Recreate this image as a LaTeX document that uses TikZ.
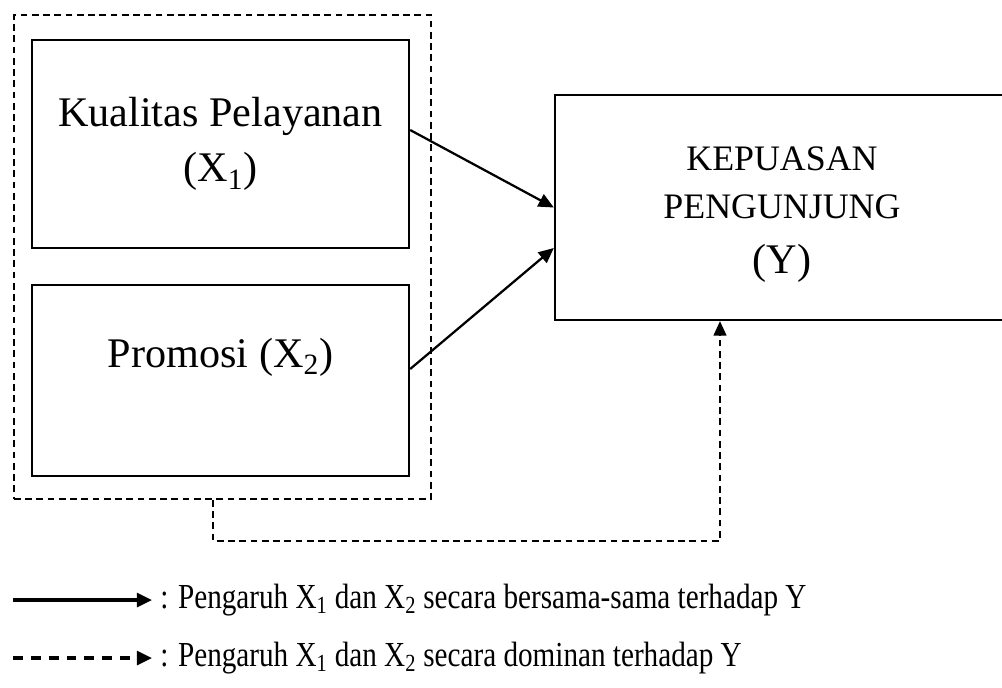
\documentclass[tikz,border=0pt]{standalone}
\usepackage{fontspec}
\setmainfont{Liberation Serif}
\usetikzlibrary{arrows.meta, calc}

\begin{document}
\begin{tikzpicture}[x=0.025cm, y=-0.025cm,
  kotak/.style={draw, line width=1.6pt, inner sep=0pt, align=center},
  panah/.style={-{Triangle[length=0.38cm, width=0.34cm]}, line width=1.6pt},
  putus/.style={dash pattern=on 4.8pt off 3.2pt, line width=1.2pt},
  ket/.style={anchor=west, inner sep=0pt, font=\fontsize{25}{29}\selectfont}]
\useasboundingbox (0,0) rectangle (1002,687);
\clip (0,0) rectangle (1002,687);

% --- kotak variabel ---
\node (grup) [draw, putus, minimum width=10.425cm, minimum height=12.1cm] at (222.5,257) {};
\node (x1) [kotak, minimum width=9.425cm, minimum height=5.2cm, font=\fontsize{30}{39}\selectfont] at (220.5,144) {Kualitas Pelayanan\\(X\textsubscript{1})};
\node (x2) [kotak, minimum width=9.425cm, text height=2.05cm, text depth=2.725cm, font=\fontsize{30}{36}\selectfont] at (220.5,380.5) {Promosi (X\textsubscript{2})};
\node (kep) [kotak, minimum width=12.5cm, minimum height=5.625cm] at (805,207.5) {};
\node (keptxt) [align=center, font=\fontsize{25.5}{34}\selectfont] at (782,214.5) {KEPUASAN\\PENGUNJUNG\\[5pt]{\fontsize{30}{36}\selectfont (Y)}};

% --- hubungan ---
\draw[panah] ($(x1.east)+(0,-14)$) -- (kep.west);
\draw[panah] ($(x2.east)+(0,-11.5)$) -- ($(kep.west)+(0,40.5)$);
\draw[putus, -{Triangle[length=0.36cm, width=0.32cm]}] ($(grup.south)+(-9.5,0)$) -- ++(0,41) -| ($(kep.south)+(-85,0)$);

% --- keterangan ---
\node (leg1) [ket] at (160,600) {\scalebox{0.83}[1]{: Pengaruh X\textsubscript{1} dan X\textsubscript{2} secara bersama-sama terhadap Y}};
\node (leg2) [ket] at (160,658) {\scalebox{0.83}[1]{: Pengaruh X\textsubscript{1} dan X\textsubscript{2} secara dominan terhadap Y}};
\coordinate (a1) at (13,600);
\coordinate (a2) at (13,658);
\draw[line width=2.2pt, -{Triangle[length=0.38cm, width=0.35cm]}] (a1) -- ($(leg1.west)+(-8,0)$);
\draw[line width=2.2pt, dash pattern=on 7pt off 5.7pt, -{Triangle[length=0.38cm, width=0.35cm]}] (a2) -- ($(leg2.west)+(-8,0)$);
\end{tikzpicture}
\end{document}
